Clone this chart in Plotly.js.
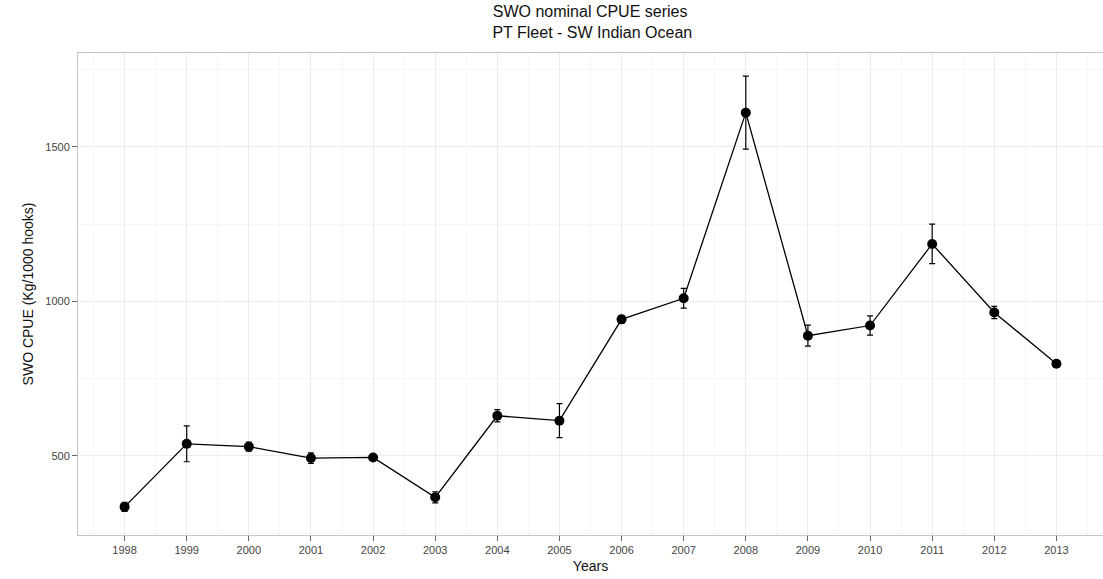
<!DOCTYPE html>
<html>
<head>
<meta charset="utf-8">
<script src="https://cdn.plot.ly/plotly-3.0.1.min.js"></script>
<style>html,body{margin:0;padding:0;background:#fff;}#chart{width:1103px;height:579px;}</style>
</head>
<body>
<div id="chart"></div>
<script>
const years = [1998,1999,2000,2001,2002,2003,2004,2005,2006,2007,2008,2009,2010,2011,2012,2013];
const cpue  = [335,539,530,493,495,366,630,614,942,1010,1611,889,922,1186,964,798];
const err   = [15,58,15,17,8,18,20,55,12,32,118,34,31,64,20,8];
const tickLabels = years.map(String);

const trace = {
  x: years, y: cpue, type: 'scatter', mode: 'lines+markers',
  line: {color: '#000', width: 1.3},
  marker: {color: '#000', size: 10},
  error_y: {type: 'data', array: err, visible: true, color: '#000', thickness: 1.2, width: 3},
  showlegend: false, hoverinfo: 'x+y'
};

const layout = {
  width: 1103, height: 579,
  margin: {l: 78, r: 0, t: 53, b: 44},
  paper_bgcolor: '#fff', plot_bgcolor: '#fff',
  font: {family: 'Liberation Sans, Arial, sans-serif', color: '#000'},
  title: {text: 'SWO nominal CPUE series<br> PT Fleet - SW Indian Ocean', x: 0.535, xanchor: 'center', yref: 'container', y: 0.97, yanchor: 'top', font: {size: 16, color: '#111'}},
  xaxis: {
    range: [1997.25, 2013.75], tickvals: years, ticktext: tickLabels,
    ticks: 'outside', ticklen: 5, tickcolor: '#666', tickwidth: 1,
    tickfont: {size: 11, color: '#444'},
    showgrid: true, gridcolor: '#ebebeb', gridwidth: 1,
    minor: {dtick: 0.5, tick0: 1997.5, showgrid: true, gridcolor: '#f7f7f7', gridwidth: 1},
    showline: true, linecolor: '#c4c4c4', linewidth: 1, mirror: true,
    zeroline: false,
    title: {text: 'Years', font: {size: 14, color: '#111'}, standoff: 5}
  },
  yaxis: {
    range: [244, 1804], tickvals: [500, 1000, 1500],
    ticks: 'outside', ticklen: 5, tickcolor: '#666', tickwidth: 1,
    tickfont: {size: 11, color: '#444'},
    showgrid: true, gridcolor: '#ebebeb', gridwidth: 1,
    minor: {tickvals: [250, 750, 1250, 1750], showgrid: true, gridcolor: '#f7f7f7', gridwidth: 1},
    showline: true, linecolor: '#c4c4c4', linewidth: 1, mirror: true,
    zeroline: false,
    title: {text: 'SWO CPUE (Kg/1000 hooks)', font: {size: 14, color: '#111'}, standoff: 8}
  }
};

Plotly.newPlot('chart', [trace], layout, {displayModeBar: false, staticPlot: true});
</script>
</body>
</html>
